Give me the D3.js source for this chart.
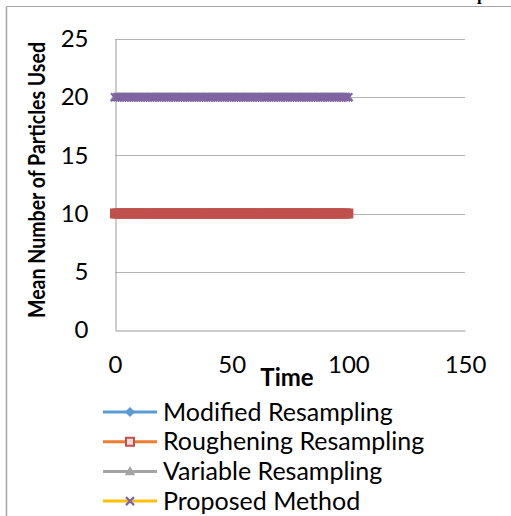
<!DOCTYPE html>
<html>
<head>
<meta charset="utf-8">
<script src="https://cdn.jsdelivr.net/npm/d3@7"></script>
<style>
	body { margin: 0; background: #fff; }
	svg { display: block; font-family: Lato, "Liberation Sans", sans-serif; }
</style>
</head>
<body>
<div id="chart"></div>
<script>
// time steps on the x axis
var times = [
	0, 1, 2, 3, 4, 5, 6, 7, 8, 9, 10, 11, 12, 13, 14, 15, 16, 17, 18, 19,
	20, 21, 22, 23, 24, 25, 26, 27, 28, 29, 30, 31, 32, 33, 34, 35, 36, 37, 38, 39,
	40, 41, 42, 43, 44, 45, 46, 47, 48, 49, 50, 51, 52, 53, 54, 55, 56, 57, 58, 59,
	60, 61, 62, 63, 64, 65, 66, 67, 68, 69, 70, 71, 72, 73, 74, 75, 76, 77, 78, 79,
	80, 81, 82, 83, 84, 85, 86, 87, 88, 89, 90, 91, 92, 93, 94, 95, 96, 97, 98, 99,
	100
];

// mean number of particles used, one value per time step
var modified = [
	10, 10, 10, 10, 10, 10, 10, 10, 10, 10, 10, 10, 10, 10, 10, 10, 10, 10, 10, 10,
	10, 10, 10, 10, 10, 10, 10, 10, 10, 10, 10, 10, 10, 10, 10, 10, 10, 10, 10, 10,
	10, 10, 10, 10, 10, 10, 10, 10, 10, 10, 10, 10, 10, 10, 10, 10, 10, 10, 10, 10,
	10, 10, 10, 10, 10, 10, 10, 10, 10, 10, 10, 10, 10, 10, 10, 10, 10, 10, 10, 10,
	10, 10, 10, 10, 10, 10, 10, 10, 10, 10, 10, 10, 10, 10, 10, 10, 10, 10, 10, 10,
	10
];
var roughening = [
	10, 10, 10, 10, 10, 10, 10, 10, 10, 10, 10, 10, 10, 10, 10, 10, 10, 10, 10, 10,
	10, 10, 10, 10, 10, 10, 10, 10, 10, 10, 10, 10, 10, 10, 10, 10, 10, 10, 10, 10,
	10, 10, 10, 10, 10, 10, 10, 10, 10, 10, 10, 10, 10, 10, 10, 10, 10, 10, 10, 10,
	10, 10, 10, 10, 10, 10, 10, 10, 10, 10, 10, 10, 10, 10, 10, 10, 10, 10, 10, 10,
	10, 10, 10, 10, 10, 10, 10, 10, 10, 10, 10, 10, 10, 10, 10, 10, 10, 10, 10, 10,
	10
];
var variable = [
	20, 20, 20, 20, 20, 20, 20, 20, 20, 20, 20, 20, 20, 20, 20, 20, 20, 20, 20, 20,
	20, 20, 20, 20, 20, 20, 20, 20, 20, 20, 20, 20, 20, 20, 20, 20, 20, 20, 20, 20,
	20, 20, 20, 20, 20, 20, 20, 20, 20, 20, 20, 20, 20, 20, 20, 20, 20, 20, 20, 20,
	20, 20, 20, 20, 20, 20, 20, 20, 20, 20, 20, 20, 20, 20, 20, 20, 20, 20, 20, 20,
	20, 20, 20, 20, 20, 20, 20, 20, 20, 20, 20, 20, 20, 20, 20, 20, 20, 20, 20, 20,
	20
];
var proposed = [
	20, 20, 20, 20, 20, 20, 20, 20, 20, 20, 20, 20, 20, 20, 20, 20, 20, 20, 20, 20,
	20, 20, 20, 20, 20, 20, 20, 20, 20, 20, 20, 20, 20, 20, 20, 20, 20, 20, 20, 20,
	20, 20, 20, 20, 20, 20, 20, 20, 20, 20, 20, 20, 20, 20, 20, 20, 20, 20, 20, 20,
	20, 20, 20, 20, 20, 20, 20, 20, 20, 20, 20, 20, 20, 20, 20, 20, 20, 20, 20, 20,
	20, 20, 20, 20, 20, 20, 20, 20, 20, 20, 20, 20, 20, 20, 20, 20, 20, 20, 20, 20,
	20
];

var seriesNames = ['Modified Resampling', 'Roughening Resampling', 'Variable Resampling', 'Proposed Method'];
var xTicks = [0, 50, 100, 150];
var yTicks = [0, 5, 10, 15, 20, 25];

var series = [
	{name: seriesNames[0], values: modified, line: '#5B9BD5', marker: 'diamond', mcolor: '#5B9BD5'},
	{name: seriesNames[1], values: roughening, line: '#ED7D31', marker: 'square', mcolor: '#C0504D'},
	{name: seriesNames[2], values: variable, line: '#A5A5A5', marker: 'triangle', mcolor: '#A5A5A5'},
	{name: seriesNames[3], values: proposed, line: '#FFC000', marker: 'cross', mcolor: '#8064A2'}
];

var width = 511,
	height = 516;

var svg = d3.select('#chart').append('svg')
	.attr('width', width)
	.attr('height', height);

// outer chart frame (only top and left edges are in view)
svg.append('line').attr('x1', 6.5).attr('y1', 6.5).attr('x2', width).attr('y2', 6.5)
	.attr('stroke', '#a6a6a6').attr('stroke-width', 1);
svg.append('line').attr('x1', 6.5).attr('y1', 6.5).attr('x2', 6.5).attr('y2', height)
	.attr('stroke', '#a6a6a6').attr('stroke-width', 1.5);

// bit of page caption poking in at the top
svg.append('text')
	.attr('x', 477).attr('y', 0)
	.style('font-family', '"Liberation Serif", serif')
	.style('font-weight', 'bold')
	.style('font-size', '17px')
	.text('pa');

var x = d3.scaleLinear().domain([0, 150]).range([115, 465]);
var y = d3.scaleLinear().domain([0, 25]).range([330, 39]);

// gridlines
svg.append('g')
	.selectAll('line')
	.data(yTicks.filter(function(d){ return d > 0; }))
	.enter().append('line')
		.attr('x1', x(0)).attr('x2', x(150))
		.attr('y1', function(d){ return Math.round(y(d)) + 0.5; })
		.attr('y2', function(d){ return Math.round(y(d)) + 0.5; })
		.attr('stroke', '#b3b3b3');

// axes
var yAxis = d3.axisLeft(y).tickValues(yTicks).tickSize(0).tickPadding(27);
var xAxis = d3.axisBottom(x).tickValues(xTicks).tickSize(0).tickPadding(25);

var gy = svg.append('g').attr('transform', 'translate(' + (Math.round(x(0)) + 0.5) + ',0)').call(yAxis);
var gx = svg.append('g').attr('transform', 'translate(0,' + (Math.round(y(0)) + 0.5) + ')').call(xAxis);
[gx, gy].forEach(function(g){
	g.select('.domain').attr('stroke', '#999');
	g.selectAll('text').style('font-size', '24px').attr('fill', '#000').style('font-family', 'Lato, sans-serif');
});

// axis titles
svg.append('text')
	.attr('x', 287).attr('y', 386)
	.attr('text-anchor', 'middle')
	.style('font-weight', 'bold')
	.style('font-size', '24px')
	.text('Time');

svg.append('text')
	.attr('transform', 'translate(45,180) rotate(-90)')
	.attr('text-anchor', 'middle')
	.attr('textLength', 276)
	.attr('lengthAdjust', 'spacingAndGlyphs')
	.style('font-weight', 'bold')
	.style('font-size', '22px')
	.text('Mean Number of Particles Used');

// marker shapes
function markerPath(type, cx, cy) {
	var s = 4;
	if (type === 'diamond') return 'M' + cx + ',' + (cy - s) + 'L' + (cx + s) + ',' + cy + 'L' + cx + ',' + (cy + s) + 'L' + (cx - s) + ',' + cy + 'Z';
	if (type === 'square') return 'M' + (cx - 4) + ',' + (cy - 4) + 'h8v8h-8Z';
	if (type === 'triangle') return 'M' + cx + ',' + (cy - s) + 'L' + (cx + s) + ',' + (cy + 3) + 'L' + (cx - s) + ',' + (cy + 3) + 'Z';
	return 'M' + (cx - 4) + ',' + (cy - 4) + 'L' + (cx + 4) + ',' + (cy + 4) + 'M' + (cx + 4) + ',' + (cy - 4) + 'L' + (cx - 4) + ',' + (cy + 4);
}

function drawMarker(g, s, cx, cy, inLegend) {
	var p = g.append('path').attr('d', markerPath(s.marker, cx, cy));
	if (s.marker === 'cross') {
		p.attr('fill', 'none').attr('stroke', s.mcolor).attr('stroke-width', 2.2);
	} else if (s.marker === 'square') {
		p.attr('fill', inLegend ? '#f2dcdb' : s.mcolor).attr('stroke', s.mcolor).attr('stroke-width', 2);
	} else {
		p.attr('fill', s.mcolor).attr('stroke', s.mcolor).attr('stroke-width', 1.5);
	}
}

var line = d3.line()
	.x(function(d){ return x(d.t); })
	.y(function(d){ return y(d.v); });

// series: line then markers, one series after another
series.forEach(function(s){
	var pts = times.map(function(t, i){ return {t: t, v: s.values[i]}; });
	var g = svg.append('g');
	g.append('path')
		.attr('d', line(pts))
		.attr('fill', 'none')
		.attr('stroke', s.line)
		.attr('stroke-width', 3);
	pts.forEach(function(d){
		drawMarker(g, s, x(d.t), y(d.v), false);
	});
});

// legend
var legend = svg.append('g');
series.forEach(function(s, i){
	var ly = 412 + i * 29.7;
	var g = legend.append('g');
	g.append('line')
		.attr('x1', 103).attr('x2', 157)
		.attr('y1', ly).attr('y2', ly)
		.attr('stroke', s.line).attr('stroke-width', 3);
	drawMarker(g, s, 130, ly, true);
	g.append('text')
		.attr('x', 163).attr('y', ly)
		.attr('dy', '0.35em')
		.style('font-size', '25px')
		.text(s.name);
});
</script>
</body>
</html>
